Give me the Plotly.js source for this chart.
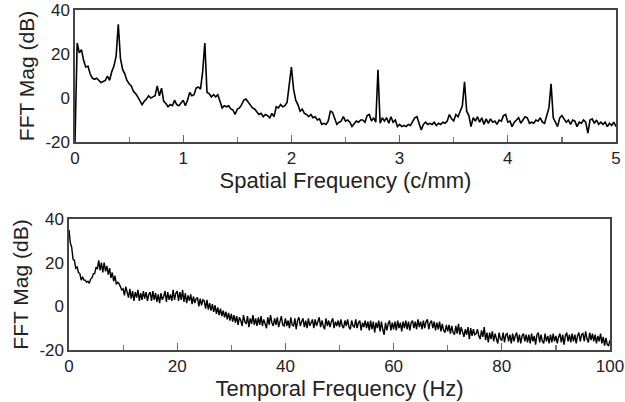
<!DOCTYPE html>
<html>
<head>
<meta charset="utf-8">
<script src="https://cdn.plot.ly/plotly-3.0.1.min.js"></script>
<style>html,body{margin:0;padding:0;background:#fff;}#chart{width:625px;height:402px;}</style>
</head>
<body>
<div id="chart"></div>
<script>
// Spatial FFT magnitude (dB), sampled every 0.02 c/mm from 0 to 5
const spatialStart = 0;
const spatialStep = 0.02;
const spatialMag = [
  -20,25,20.5,22,17,14,14.5,11,9,8.5,
  9,8,7,7.5,8,10,8,12,14.5,19,
  33.5,18,13,11,8,6.5,5.5,3,2,0.5,
  -1.5,-3,-1.5,-0.5,1,0,0.5,1,5.5,1,
  4.5,-1.5,-2.5,-4,-3,-3.5,-1,-3,-3.5,-2,
  -1,-3.5,-1,2.5,1,1.5,4.5,5,4,12,
  25,2.5,2,0.5,1.5,0.5,1.5,-1.5,-4.5,-3.5,
  -4,-3.5,-5,-5.5,-7.5,-5,-4.5,-3,-1,-0.5,
  -2,-3,-4.5,-5,-6.5,-7.5,-7,-8.5,-7.5,-8,
  -9,-7,-8.5,-4,-4.5,-3,-4,-3.5,-2,5,
  14,4,-1,-3,-6,-5,-7,-7.5,-8.5,-7.5,
  -9,-8.5,-10,-9.5,-12,-11.5,-12,-10.5,-6,-6.5,
  -9.5,-12,-11,-10.5,-8.5,-10.5,-10,-11,-13,-11.5,
  -10.5,-11,-10,-10,-11,-8,-7.5,-10.5,-9,-11,
  12.8,-11.5,-9,-10.5,-9,-11.5,-8.5,-11,-10,-13,
  -12,-13,-12.5,-13,-12,-12.5,-10.5,-9,-8.5,-12,
  -14.5,-12,-11,-12,-11.5,-12,-11,-12.5,-11.5,-12,
  -11,-11.5,-10.5,-7.5,-9.5,-10.5,-7.5,-8.5,-6,-3.5,
  7.4,-6,-8,-13,-9,-10.5,-8.5,-11,-9,-12,
  -9.5,-11.5,-9.5,-11,-10.5,-12,-10,-10.5,-8,-7.5,
  -11,-10.5,-13,-11,-10,-9,-11.5,-10,-8.5,-9,
  -11.5,-11,-11.5,-10,-10.5,-9,-11,-11.5,-7.5,-4.5,
  6.4,-9,-11,-13,-9,-8,-9.5,-11,-10,-12,
  -10,-10.5,-13,-11,-11.5,-10,-11,-16,-10,-9.5,
  -11.5,-10,-12,-11,-12,-11,-13,-11.5,-12.5,-11,
  -13
];

// Temporal FFT magnitude (dB), sampled every 0.25 Hz from 0 to 100
const temporalStart = 0;
const temporalStep = 0.25;
const temporalMag = [
  35,29,27,21.5,21,17.5,18,15.5,15,12,13.5,12,12,11,11.5,10.5,12.5,13,15,15,
  18,17,21,16.5,20,15.5,20,16,18.5,14.5,17.5,13,15.5,11.5,14,10,11,10.5,9,7.5,
  8,5,9,6,4,8,3.5,7,2.5,6.5,4,7.5,2.5,6,3,7,3.5,6.5,2.5,5.5,
  6.5,2.5,7,3,6,2,5.5,1.5,6,3,4.5,7,2,6.5,3,5.5,2.5,7.5,3,6,
  7,2.5,6.5,3,7.5,2,6,1.5,5,2.5,5.5,1,4.5,1.5,3.5,4,0,3.5,0.5,3,
  2.5,-1,3,-1.5,1.5,-2,1,-2.5,0.5,-3.5,-0.5,-4,-1,-4.5,-2,-5,-2.5,-6,-3,-6.5,
  -3.5,-7,-4,-7.5,-4.5,-8.5,-5,-6.5,-9,-4,-7,-8,-4.5,-9.5,-5.5,-8,-4,-8.5,-5.5,-9,
  -5,-8.5,-4.5,-9,-6,-8,-10,-5,-8.5,-4,-7.5,-9,-5.5,-8.5,-5,-9.5,-6.5,-4.5,-8.5,-9,
  -5.5,-9,-6.5,-10,-5,-8.5,-9,-5.5,-10.5,-6.5,-5,-9,-7,-5.5,-9.5,-6.5,-10,-5.5,-9,-7,
  -6,-10,-6,-9,-7,-5,-9.5,-6.5,-9,-10.5,-5.5,-9,-6.5,-9.5,-7,-5.5,-10,-7,-9,-6.5,
  -9.5,-6,-9,-10,-6.5,-9,-6,-9.5,-10.5,-6.5,-9,-9.5,-6,-10,-7.5,-6.5,-11,-7.5,-9.5,-6.5,
  -10,-7,-11,-6.5,-10.5,-7,-12,-7.5,-10,-6.5,-11.5,-7,-10.5,-13,-7.5,-11,-8,-6.5,-11,-7.5,
  -10.5,-7,-11,-6.5,-10,-7.5,-11.5,-7,-10,-6.5,-10.5,-7,-11,-7.5,-6.5,-10,-7,-10.5,-6,-9.5,
  -7,-10.5,-6.5,-10,-7,-6,-10.5,-7.5,-6.5,-10,-7,-11,-7.5,-10.5,-7,-11.5,-8,-11,-12,-8.5,
  -11.5,-8.5,-12.5,-9,-12,-13,-9,-12.5,-8,-13,-9.5,-12,-14,-10.5,-13,-9.5,-15,-10,-13.5,-10.5,
  -13,-12.5,-10.5,-13.5,-15,-11,-14,-9.5,-15.5,-12,-16.5,-12,-15,-11.5,-16,-12.5,-15.5,-17,-12,-15,
  -15.5,-12,-16.5,-13,-12.5,-16,-13,-17,-12.5,-16,-13.5,-12,-16.5,-13,-17,-13.5,-12.5,-16,-13,-16.5,
  -13,-17,-12.5,-16,-13.5,-17.5,-13,-12,-16.5,-13,-16,-17,-12.5,-16,-13.5,-17,-13,-16.5,-12.5,-16,
  -13.5,-17,-14,-12.5,-16.5,-13,-17.5,-13.5,-12,-16,-13,-16.5,-12.5,-16,-13,-17,-13.5,-12,-16,-13,
  -12.5,-16,-11.5,-15,-16.5,-12,-15.5,-12.5,-16,-13,-17,-13.5,-16,-12.5,-17,-14,-18,-14.5,-17.5,-18,
  -15.5
];

const yTickVals = [-20, 0, 20, 40];
const yTickText = ['-20', '0', '20', '40'];
const spatialTickVals = [0, 1, 2, 3, 4, 5];
const temporalTickVals = [0, 20, 40, 60, 80, 100];

const FONT = 'Arial, "Liberation Sans", sans-serif';
const frameColor = '#444';
const textColor = '#222';

function xAxis(domain, anchor, range, tickvals, minorDtick, title) {
  return {
    domain: domain, anchor: anchor, range: range,
    tickmode: 'array', tickvals: tickvals,
    ticks: 'inside', ticklen: 7, tickwidth: 1.2, tickcolor: '#666',
    minor: {dtick: minorDtick, tick0: 0, ticks: 'inside', ticklen: 5, tickwidth: 1.2, tickcolor: '#777'},
    showline: true, linecolor: frameColor, linewidth: 1.6, mirror: true,
    showgrid: false, zeroline: false,
    tickfont: {family: FONT, size: 17, color: textColor},
    title: {text: title, font: {family: FONT, size: 22, color: textColor}, standoff: 2}
  };
}
function yAxis(domain, anchor) {
  return {
    domain: domain, anchor: anchor, range: [-20, 40],
    tickmode: 'array', tickvals: yTickVals, ticktext: yTickText, ticks: '',
    showline: true, linecolor: frameColor, linewidth: 1.6, mirror: true,
    showgrid: false, zeroline: false,
    tickfont: {family: FONT, size: 17, color: textColor},
    title: {text: 'FFT Mag (dB)', font: {family: FONT, size: 21, color: textColor}, standoff: 5}
  };
}
function zeroTickAxis(domain, anchor, overlay) {
  return {
    domain: domain, anchor: anchor, overlaying: overlay, range: [-20, 40],
    tickmode: 'array', tickvals: [0], ticks: 'inside', ticklen: 7, tickwidth: 1.2, tickcolor: '#777',
    showticklabels: false, showline: false, showgrid: false, zeroline: false
  };
}

const traces = [
  {type: 'scatter', mode: 'lines', x0: spatialStart, dx: spatialStep, y: spatialMag,
   xaxis: 'x', yaxis: 'y', line: {color: '#000', width: 1.6}, hoverinfo: 'skip'},
  {type: 'scatter', mode: 'lines', x0: temporalStart, dx: temporalStep, y: temporalMag,
   xaxis: 'x2', yaxis: 'y2', line: {color: '#000', width: 1.4}, hoverinfo: 'skip'}
];

const topY = [260/402, 392/402];
const botY = [52/402, 183/402];
const topX = [75/625, 616/625];
const botX = [69/625, 610/625];

const layout = {
  width: 625, height: 402,
  margin: {l: 0, r: 0, t: 0, b: 0},
  paper_bgcolor: '#fff', plot_bgcolor: '#fff',
  showlegend: false,
  font: {family: FONT, color: textColor},
  xaxis: xAxis(topX, 'y', [0, 5], spatialTickVals, 0.5, 'Spatial Frequency (c/mm)'),
  yaxis: yAxis(topY, 'x'),
  xaxis2: xAxis(botX, 'y2', [0, 100], temporalTickVals, 10, 'Temporal Frequency (Hz)'),
  yaxis2: yAxis(botY, 'x2'),
  yaxis3: zeroTickAxis(topY, 'x', 'y'),
  yaxis4: zeroTickAxis(botY, 'x2', 'y2')
};

Plotly.newPlot('chart', traces, layout, {staticPlot: true, displayModeBar: false});
</script>
</body>
</html>
